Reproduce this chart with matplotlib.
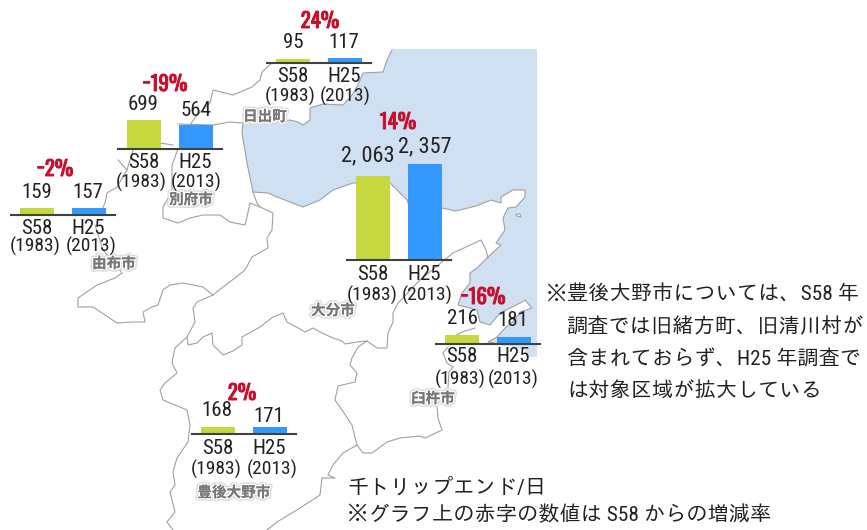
import matplotlib
matplotlib.use('Agg')
import matplotlib.pyplot as plt
import matplotlib.patheffects as pe
from matplotlib.patches import Polygon

W, H = 867, 530
TEXT_FONT = ['Roboto Condensed', 'IPAGothic', 'Noto Sans CJK JP', 'DejaVu Sans']
NAME_FONT = ['Noto Sans CJK JP', 'DejaVu Sans']
RED_FONT = ['Oswald', 'Roboto Condensed', 'DejaVu Sans']

# data
towns = ['日出町', '別府市', '由布市', '大分市', '臼杵市', '豊後大野市']
s58_values = [95, 699, 159, 2063, 216, 168]
h25_values = [117, 564, 157, 2357, 181, 171]
s58_text = ['95', '699', '159', '2, 063', '216', '168']
h25_text = ['117', '564', '157', '2, 357', '181', '171']
change_text = ['24%', '−19%', '−2%', '14%', '−16%', '2%']
cat_labels = ['S58', 'H25']
year_labels = ['(1983)', '(2013)']

unit_per_px = 24.5

# layout, pixel positions in the picture
axis_left = [267, 118, 11, 347, 436, 192]
axis_base = [62.5, 148.5, 214.5, 260, 344, 434]
s58_pos = [(293, 43), (143, 104), (37, 192), (368, 156), (462, 318), (217, 410)]
h25_pos = [(344, 43), (196, 111), (88, 192), (425, 147), (513, 321), (269, 416)]
change_pos = [(320, 21), (165, 84), (55, 169), (398, 122), (483, 297), (242, 393)]
s58_cat_pos = [(293, 77), (144, 163), (37, 228), (373, 275), (462, 357), (218, 448)]
h25_cat_pos = [(344, 77), (195, 163), (88, 228), (424, 275), (513, 357), (269, 448)]
s58_year_pos = [(290, 96), (141, 182), (35, 246), (372, 295), (460, 379), (216, 469)]
h25_year_pos = [(345, 96), (196, 182), (91, 246), (427, 295), (513, 379), (272, 469)]
town_pos = [(265, 116), (191, 199), (114, 263), (333, 310), (433, 398), (234, 492)]

# map background, traced by hand
coast = [(392, 50), (387, 60), (383, 72), (363, 73), (358, 85), (352, 95), (343, 105), (323, 104),
         (310, 108), (310, 120), (303, 125), (298, 122), (290, 120), (263, 123), (243, 123),
         (242, 133), (247, 163), (253, 192), (268, 193), (277, 197), (303, 207), (320, 200),
         (333, 190), (353, 183), (390, 183), (407, 200), (409, 206), (442, 208), (456, 211),
         (476, 206), (491, 200), (501, 203), (501, 197), (513, 190), (525, 190), (525, 197),
         (516, 207), (508, 208), (503, 218), (505, 230), (496, 243), (501, 245), (488, 257),
         (478, 267), (470, 273), (470, 283), (462, 293), (458, 305), (477, 310), (480, 322),
         (490, 325), (500, 313), (520, 303), (525, 300), (532, 308), (520, 312), (515, 320),
         (505, 328), (497, 337), (488, 342), (505, 345), (525, 350), (527, 357), (537, 357)]
sea_corners = [(537, 49), (392, 49)]
island = [(516, 214), (520, 214), (521, 217), (517, 216)]
borders = [
    [(272, 63), (262, 72), (260, 80), (252, 87), (233, 95), (213, 90), (210, 103), (197, 115),
     (190, 125)],
    [(178, 124), (213, 125), (230, 122), (243, 123)],
    [(160, 143), (173, 145)],
    [(118, 160), (127, 170), (117, 187), (107, 193), (105, 203), (100, 214)],
    [(127, 170), (133, 150)],
    [(95, 225), (103, 250), (122, 273), (115, 278), (97, 285), (78, 298), (78, 307), (93, 307),
     (117, 323), (132, 322), (145, 322), (143, 312), (152, 307), (158, 305), (163, 290),
     (170, 285), (183, 283), (203, 287), (213, 295), (223, 287), (235, 278), (245, 270),
     (252, 257), (268, 248), (267, 238), (272, 230), (273, 213), (260, 207), (250, 203),
     (247, 217), (245, 225), (230, 222), (220, 215), (203, 215), (190, 218), (178, 223),
     (163, 218), (163, 207), (172, 192), (172, 165), (178, 149)],
    [(253, 192), (257, 203), (260, 207)],
    [(213, 295), (197, 302), (193, 308), (195, 322), (187, 337), (175, 348), (172, 363),
     (177, 373), (165, 383), (160, 390), (163, 400), (187, 410), (190, 425), (188, 442),
     (177, 458), (173, 472), (175, 485), (170, 492), (175, 512), (167, 522), (173, 530)],
    [(187, 337), (188, 345), (197, 343), (203, 337), (212, 333), (213, 345), (223, 355),
     (233, 351), (242, 345), (242, 337), (260, 327), (273, 317), (283, 313), (287, 322),
     (300, 329), (305, 332), (313, 328), (320, 332), (333, 338), (342, 341), (345, 344),
     (357, 342), (367, 341), (377, 348), (387, 348), (388, 333), (393, 322), (393, 313),
     (398, 303), (420, 280), (442, 262), (453, 253), (466, 247), (481, 240), (486, 250),
     (488, 258)],
    [(367, 341), (358, 347), (352, 358), (350, 365), (357, 373), (355, 382), (338, 386),
     (335, 400), (342, 410), (352, 425), (357, 445), (363, 453), (372, 453), (387, 442),
     (400, 438), (420, 436), (425, 438), (442, 430), (438, 418), (437, 405)],
    [(357, 445), (343, 453), (333, 465), (328, 475), (335, 478), (322, 478), (320, 495),
     (300, 508), (277, 522), (267, 530)],
    [(448, 347), (443, 353), (447, 363), (453, 367), (449, 372), (448, 387)],
    [(475, 328), (462, 332), (455, 336)],
]

# footnotes
note_mark = '※'
note_lines = ['豊後大野市については、S58 年', '調査では旧緒方町、旧清川村が',
              '含まれておらず、H25 年調査で', 'は対象区域が拡大している']
note_y = [295, 328, 360, 392]
unit_text = '千トリップエンド/日'
foot_text = '※グラフ上の赤字の数値は S58 からの増減率'

GREEN = '#C5D83F'
BLUE = '#3399FF'
LINE = '#404040'
RED = '#C8102E'
SEA = '#CFE0F3'
MAP_LINE = '#A0A0A0'
TEXT = '#222222'

fig = plt.figure(figsize=(W / 100, H / 100), dpi=100)
ax = fig.add_axes([0, 0, 1, 1])
ax.set_xlim(0, W)
ax.set_ylim(H, 0)
ax.axis('off')

ax.add_patch(Polygon(coast + sea_corners, closed=True, fc=SEA, ec='none', zorder=1))
ax.add_patch(Polygon(island, closed=True, fc='white', ec=MAP_LINE, lw=0.8, zorder=2))
ax.plot(*zip(*coast[:-3]), color=MAP_LINE, lw=0.8, zorder=2)
for border in borders:
    ax.plot(*zip(*border), color=MAP_LINE, lw=0.8, zorder=2)

# town names on the map
for name, (x, y) in zip(towns, town_pos):
    ax.text(x, y, name, family=NAME_FONT, fontsize=10.5, weight='bold', color='#787878',
            ha='center', va='center', zorder=3,
            path_effects=[pe.withStroke(linewidth=4, foreground='#DDDDDD'),
                          pe.withStroke(linewidth=2, foreground='white'),
                          pe.Normal()])

# the little bar charts
chart_w, chart_h = 104, 100
for i in range(len(towns)):
    left = axis_left[i] / W
    bottom = 1 - axis_base[i] / H
    bar_ax = fig.add_axes([left, bottom, chart_w / W, chart_h / H])
    bar_ax.patch.set_alpha(0)
    bar_ax.set_xlim(-0.5, 1.5)
    bar_ax.set_ylim(0, chart_h * unit_per_px)
    bar_ax.bar([0, 1], [s58_values[i], h25_values[i]], width=0.635, color=[GREEN, BLUE])
    for s in ['top', 'left', 'right']:
        bar_ax.spines[s].set_visible(False)
    bar_ax.spines['bottom'].set_color(LINE)
    bar_ax.spines['bottom'].set_linewidth(1.5)
    bar_ax.set_xticks([])
    bar_ax.set_yticks([])

    # value and category text
    for t, p in zip([s58_text[i], h25_text[i]], [s58_pos[i], h25_pos[i]]):
        size = 16 if ',' in t else 15
        ax.text(p[0], p[1], t, family=TEXT_FONT, fontsize=size, color=TEXT, ha='center', va='center', zorder=5)
    ax.text(change_pos[i][0], change_pos[i][1], change_text[i], family=RED_FONT, fontsize=15,
            weight='bold', color=RED, ha='center', va='center', zorder=5,
            path_effects=[pe.withStroke(linewidth=0.7, foreground=RED)])
    for t, p in zip(cat_labels, [s58_cat_pos[i], h25_cat_pos[i]]):
        ax.text(p[0], p[1], t, family=TEXT_FONT, fontsize=15, color=TEXT, ha='center', va='center', zorder=5)
    for t, p in zip(year_labels, [s58_year_pos[i], h25_year_pos[i]]):
        ax.text(p[0], p[1], t, family=TEXT_FONT, fontsize=14, color=TEXT, ha='center', va='center', zorder=5)

# notes on the right and at the bottom
ax.text(545, note_y[0], note_mark, family=TEXT_FONT, fontsize=15.3, color=TEXT, va='center')
for line, y in zip(note_lines, note_y):
    ax.text(567, y, line, family=TEXT_FONT, fontsize=15.3, color=TEXT, va='center')
ax.text(347, 488, unit_text, family=TEXT_FONT, fontsize=15.3, color=TEXT, va='center')
ax.text(347, 516, foot_text, family=TEXT_FONT, fontsize=15.3, color=TEXT, va='center')

fig.savefig('out.png', dpi=100)
